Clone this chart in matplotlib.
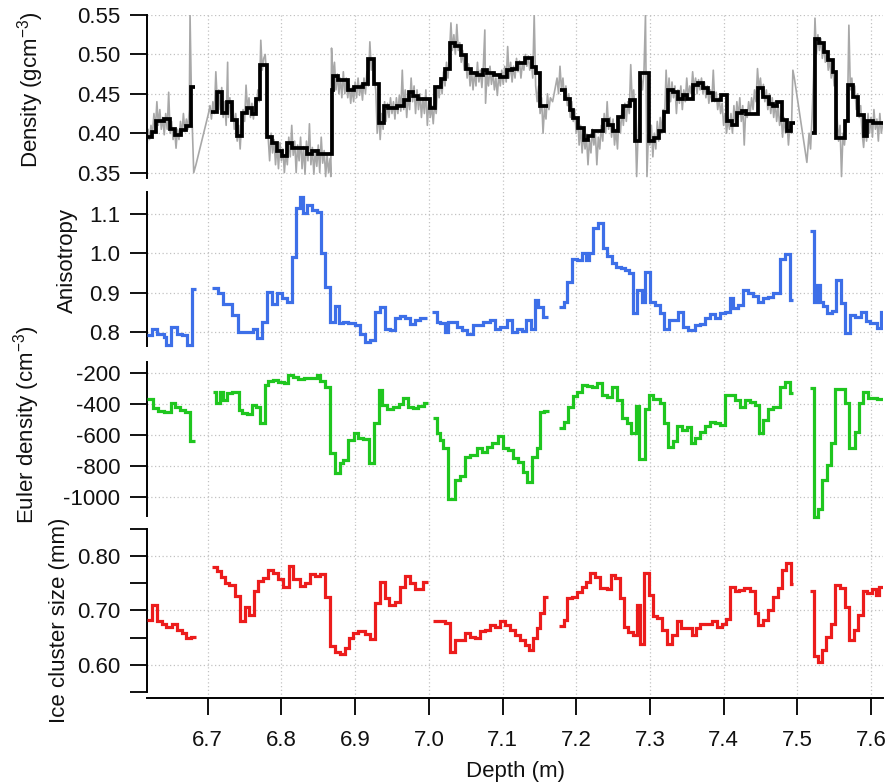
import numpy as np
import matplotlib
matplotlib.use("Agg")
import matplotlib.pyplot as plt
from matplotlib.ticker import FixedLocator, FormatStrFormatter

plt.rcParams['font.family'] = ['Liberation Sans', 'DejaVu Sans']
plt.rcParams['mathtext.fontset'] = 'custom'
plt.rcParams['mathtext.rm'] = 'Liberation Sans'
plt.rcParams['mathtext.default'] = 'regular'
plt.rcParams['axes.unicode_minus'] = False

# ---------------------------------------------------------------- data
depth_ticks = [6.7, 6.8, 6.9, 7.0, 7.1, 7.2, 7.3, 7.4, 7.5, 7.6]

# Density: raw profile (grey) and step-averaged profile (black)
density_raw_depth = [
    6.617, 6.619, 6.621, 6.623, 6.625, 6.627, 6.629, 6.631, 6.633, 6.635, 6.637, 6.639, 6.641, 6.643,
    6.645, 6.647, 6.649, 6.651, 6.653, 6.655, 6.657, 6.659, 6.661, 6.663, 6.665, 6.667, 6.669, 6.671,
    6.673, 6.675, 6.676, 6.678, 6.681, 6.684, 6.701, 6.703, 6.705, 6.707, 6.709, 6.711, 6.713, 6.715,
    6.717, 6.719, 6.721, 6.723, 6.725, 6.727, 6.728, 6.730, 6.732, 6.734, 6.736, 6.738, 6.740, 6.742,
    6.744, 6.746, 6.748, 6.750, 6.752, 6.754, 6.756, 6.758, 6.760, 6.762, 6.764, 6.766, 6.768, 6.770,
    6.772, 6.774, 6.776, 6.778, 6.780, 6.782, 6.784, 6.786, 6.788, 6.790, 6.792, 6.794, 6.796, 6.798,
    6.800, 6.802, 6.804, 6.806, 6.808, 6.810, 6.812, 6.814, 6.816, 6.818, 6.820, 6.822, 6.824, 6.826,
    6.828, 6.830, 6.832, 6.834, 6.836, 6.838, 6.840, 6.842, 6.844, 6.846, 6.848, 6.850, 6.852, 6.854,
    6.856, 6.858, 6.860, 6.862, 6.864, 6.866, 6.867, 6.868, 6.870, 6.872, 6.874, 6.876, 6.878, 6.880,
    6.882, 6.884, 6.886, 6.888, 6.890, 6.892, 6.894, 6.896, 6.898, 6.900, 6.902, 6.904, 6.906, 6.908,
    6.910, 6.912, 6.914, 6.916, 6.918, 6.920, 6.922, 6.924, 6.926, 6.928, 6.930, 6.932, 6.934, 6.936,
    6.938, 6.940, 6.942, 6.944, 6.946, 6.948, 6.950, 6.952, 6.954, 6.956, 6.958, 6.960, 6.962, 6.964,
    6.966, 6.968, 6.970, 6.972, 6.974, 6.976, 6.978, 6.980, 6.982, 6.984, 6.986, 6.988, 6.990, 6.992,
    6.994, 6.996, 6.998, 7.000, 7.002, 7.004, 7.006, 7.008, 7.010, 7.012, 7.014, 7.016, 7.018, 7.020,
    7.022, 7.024, 7.026, 7.028, 7.030, 7.032, 7.034, 7.036, 7.038, 7.040, 7.042, 7.044, 7.046, 7.048,
    7.050, 7.052, 7.054, 7.056, 7.058, 7.060, 7.062, 7.064, 7.066, 7.068, 7.070, 7.072, 7.074, 7.076,
    7.077, 7.079, 7.081, 7.083, 7.085, 7.087, 7.089, 7.091, 7.093, 7.095, 7.097, 7.099, 7.101, 7.103,
    7.105, 7.107, 7.109, 7.111, 7.113, 7.115, 7.117, 7.119, 7.121, 7.123, 7.125, 7.127, 7.129, 7.131,
    7.133, 7.135, 7.137, 7.139, 7.141, 7.143, 7.145, 7.147, 7.149, 7.151, 7.153, 7.155, 7.157, 7.159,
    7.161, 7.163, 7.165, 7.168, 7.171, 7.174, 7.176, 7.178, 7.180, 7.182, 7.184, 7.186, 7.188, 7.190,
    7.192, 7.194, 7.196, 7.198, 7.200, 7.202, 7.204, 7.206, 7.208, 7.210, 7.212, 7.214, 7.216, 7.218,
    7.220, 7.222, 7.224, 7.226, 7.228, 7.230, 7.232, 7.234, 7.236, 7.238, 7.240, 7.242, 7.244, 7.246,
    7.248, 7.250, 7.252, 7.254, 7.256, 7.258, 7.260, 7.262, 7.264, 7.266, 7.268, 7.270, 7.272, 7.274,
    7.276, 7.278, 7.280, 7.282, 7.284, 7.286, 7.288, 7.290, 7.292, 7.294, 7.296, 7.298, 7.300, 7.302,
    7.304, 7.306, 7.308, 7.310, 7.312, 7.314, 7.316, 7.318, 7.320, 7.322, 7.324, 7.326, 7.328, 7.330,
    7.332, 7.334, 7.336, 7.338, 7.340, 7.342, 7.344, 7.346, 7.348, 7.350, 7.352, 7.354, 7.356, 7.358,
    7.360, 7.362, 7.364, 7.366, 7.368, 7.370, 7.372, 7.374, 7.376, 7.378, 7.380, 7.382, 7.384, 7.386,
    7.388, 7.390, 7.392, 7.394, 7.396, 7.398, 7.400, 7.402, 7.404, 7.406, 7.408, 7.410, 7.412, 7.414,
    7.416, 7.418, 7.420, 7.422, 7.424, 7.426, 7.428, 7.430, 7.432, 7.434, 7.436, 7.438, 7.440, 7.442,
    7.444, 7.446, 7.448, 7.450, 7.452, 7.454, 7.456, 7.458, 7.460, 7.462, 7.464, 7.466, 7.468, 7.470,
    7.472, 7.474, 7.476, 7.478, 7.480, 7.482, 7.484, 7.486, 7.488, 7.490, 7.492, 7.494, 7.496, 7.513,
    7.516, 7.518, 7.520, 7.522, 7.524, 7.526, 7.528, 7.530, 7.532, 7.534, 7.536, 7.538, 7.540, 7.542,
    7.544, 7.546, 7.548, 7.550, 7.552, 7.554, 7.556, 7.558, 7.560, 7.562, 7.564, 7.566, 7.568, 7.570,
    7.572, 7.574, 7.576, 7.578, 7.580, 7.582, 7.584, 7.586, 7.588, 7.590, 7.592, 7.594, 7.596, 7.598,
    7.600, 7.602, 7.604, 7.606, 7.608, 7.610, 7.612, 7.614, 7.616,
]
density_raw = [
    0.372, 0.405, 0.392, 0.410, 0.398, 0.425, 0.405, 0.440, 0.410, 0.430, 0.405, 0.420, 0.398, 0.425,
    0.405, 0.452, 0.400, 0.415, 0.392, 0.405, 0.381, 0.405, 0.392, 0.415, 0.398, 0.425, 0.402, 0.418,
    0.405, 0.430, 0.550, 0.440, 0.350, 0.360, 0.425, 0.435, 0.418, 0.440, 0.425, 0.478, 0.440, 0.455,
    0.430, 0.458, 0.420, 0.440, 0.410, 0.490, 0.420, 0.445, 0.425, 0.438, 0.405, 0.425, 0.390, 0.410,
    0.380, 0.415, 0.430, 0.415, 0.461, 0.430, 0.445, 0.420, 0.438, 0.418, 0.440, 0.425, 0.455, 0.440,
    0.518, 0.480, 0.495, 0.500, 0.470, 0.395, 0.365, 0.400, 0.375, 0.392, 0.360, 0.385, 0.355, 0.388,
    0.365, 0.380, 0.350, 0.375, 0.360, 0.395, 0.370, 0.410, 0.372, 0.390, 0.350, 0.385, 0.365, 0.395,
    0.355, 0.383, 0.348, 0.390, 0.365, 0.412, 0.360, 0.382, 0.348, 0.378, 0.358, 0.385, 0.350, 0.395,
    0.362, 0.378, 0.345, 0.372, 0.350, 0.368, 0.345, 0.508, 0.470, 0.490, 0.455, 0.475, 0.450, 0.470,
    0.445, 0.478, 0.450, 0.470, 0.445, 0.462, 0.438, 0.458, 0.440, 0.465, 0.445, 0.470, 0.448, 0.462,
    0.442, 0.470, 0.450, 0.478, 0.460, 0.516, 0.480, 0.495, 0.470, 0.455, 0.400, 0.430, 0.392, 0.425,
    0.405, 0.440, 0.415, 0.438, 0.420, 0.445, 0.425, 0.440, 0.418, 0.445, 0.425, 0.448, 0.428, 0.480,
    0.430, 0.455, 0.420, 0.450, 0.430, 0.470, 0.440, 0.460, 0.425, 0.455, 0.430, 0.450, 0.420, 0.445,
    0.425, 0.455, 0.410, 0.440, 0.420, 0.435, 0.412, 0.440, 0.425, 0.460, 0.445, 0.470, 0.450, 0.478,
    0.460, 0.490, 0.470, 0.500, 0.540, 0.505, 0.525, 0.500, 0.538, 0.505, 0.515, 0.490, 0.505, 0.480,
    0.495, 0.470, 0.488, 0.460, 0.480, 0.455, 0.478, 0.460, 0.490, 0.465, 0.480, 0.458, 0.485, 0.531,
    0.438, 0.475, 0.460, 0.485, 0.462, 0.478, 0.455, 0.470, 0.448, 0.475, 0.460, 0.480, 0.462, 0.485,
    0.465, 0.510, 0.470, 0.490, 0.465, 0.485, 0.470, 0.495, 0.478, 0.492, 0.470, 0.488, 0.480, 0.500,
    0.485, 0.498, 0.480, 0.495, 0.470, 0.550, 0.460, 0.440, 0.460, 0.425, 0.445, 0.400, 0.432, 0.418,
    0.450, 0.430, 0.445, 0.440, 0.455, 0.470, 0.450, 0.485, 0.455, 0.470, 0.445, 0.460, 0.435, 0.450,
    0.420, 0.440, 0.415, 0.430, 0.400, 0.420, 0.385, 0.410, 0.375, 0.400, 0.380, 0.395, 0.360, 0.392,
    0.375, 0.405, 0.385, 0.400, 0.360, 0.395, 0.380, 0.410, 0.390, 0.425, 0.400, 0.440, 0.405, 0.420,
    0.395, 0.418, 0.385, 0.405, 0.380, 0.420, 0.400, 0.430, 0.410, 0.438, 0.415, 0.440, 0.425, 0.487,
    0.440, 0.455, 0.420, 0.345, 0.400, 0.440, 0.470, 0.455, 0.480, 0.550, 0.345, 0.400, 0.385, 0.410,
    0.370, 0.400, 0.380, 0.415, 0.390, 0.420, 0.400, 0.430, 0.420, 0.480, 0.440, 0.470, 0.440, 0.465,
    0.445, 0.460, 0.425, 0.455, 0.438, 0.460, 0.430, 0.455, 0.440, 0.470, 0.445, 0.460, 0.450, 0.478,
    0.455, 0.470, 0.450, 0.468, 0.455, 0.470, 0.450, 0.465, 0.445, 0.460, 0.438, 0.455, 0.440, 0.480,
    0.440, 0.452, 0.430, 0.445, 0.425, 0.438, 0.410, 0.425, 0.400, 0.420, 0.405, 0.425, 0.400, 0.435,
    0.410, 0.440, 0.420, 0.445, 0.415, 0.435, 0.385, 0.430, 0.420, 0.440, 0.425, 0.445, 0.430, 0.455,
    0.440, 0.482, 0.455, 0.470, 0.448, 0.462, 0.440, 0.455, 0.430, 0.450, 0.425, 0.445, 0.420, 0.440,
    0.415, 0.435, 0.410, 0.425, 0.395, 0.420, 0.400, 0.415, 0.385, 0.410, 0.400, 0.480, 0.470, 0.363,
    0.400, 0.380, 0.420, 0.470, 0.546, 0.500, 0.525, 0.505, 0.520, 0.495, 0.512, 0.490, 0.505, 0.480,
    0.495, 0.470, 0.485, 0.460, 0.470, 0.420, 0.390, 0.410, 0.345, 0.400, 0.385, 0.410, 0.420, 0.537,
    0.455, 0.470, 0.445, 0.460, 0.430, 0.450, 0.420, 0.435, 0.400, 0.382, 0.410, 0.390, 0.425, 0.400,
    0.420, 0.395, 0.430, 0.405, 0.418, 0.390, 0.425, 0.400, 0.412,
]

# step profiles: each segment has one more edge than values
density_edges = [
    [6.617, 6.624, 6.630, 6.641, 6.649, 6.656, 6.664, 6.670, 6.677, 6.683],
    [6.705, 6.712, 6.719, 6.726, 6.733, 6.740, 6.746, 6.753, 6.760, 6.766, 6.771, 6.780, 6.787,
     6.794, 6.801, 6.808, 6.814, 6.835, 6.842, 6.849, 6.868, 6.870, 6.877, 6.884, 6.891, 6.898,
     6.911, 6.918, 6.926, 6.933, 6.939, 6.945, 6.957, 6.966, 6.973, 6.979, 6.986, 7.002, 7.009,
     7.016, 7.022, 7.029, 7.036, 7.043, 7.050, 7.057, 7.066, 7.073, 7.079, 7.088, 7.097, 7.106,
     7.113, 7.120, 7.131, 7.140, 7.145, 7.151, 7.162],
    [7.178, 7.185, 7.191, 7.196, 7.203, 7.210, 7.216, 7.223, 7.237, 7.243, 7.250, 7.257, 7.264,
     7.273, 7.280, 7.286, 7.299, 7.306, 7.313, 7.319, 7.325, 7.331, 7.338, 7.345, 7.351, 7.358,
     7.365, 7.3725, 7.379, 7.386, 7.397, 7.404, 7.411, 7.418, 7.4245, 7.431, 7.447, 7.454, 7.461,
     7.4675, 7.473, 7.479, 7.486, 7.491, 7.497],
    [7.5195, 7.524, 7.530, 7.536, 7.542, 7.548, 7.553, 7.565, 7.569, 7.576, 7.583, 7.590, 7.595,
     7.603, 7.616],
]
density_mean = [
    [0.395, 0.402, 0.416, 0.418, 0.405, 0.398, 0.404, 0.409, 0.459],
    [0.427, 0.452, 0.426, 0.440, 0.417, 0.396, 0.426, 0.432, 0.425, 0.444, 0.486, 0.395, 0.387,
     0.377, 0.371, 0.387, 0.381, 0.374, 0.377, 0.373, 0.455, 0.472, 0.467, 0.468, 0.455, 0.459,
     0.462, 0.494, 0.462, 0.413, 0.434, 0.432, 0.435, 0.442, 0.452, 0.447, 0.444, 0.432, 0.459,
     0.469, 0.482, 0.515, 0.511, 0.499, 0.482, 0.476, 0.474, 0.480, 0.476, 0.474, 0.471, 0.480,
     0.481, 0.489, 0.495, 0.484, 0.477, 0.434],
    [0.455, 0.444, 0.429, 0.419, 0.406, 0.391, 0.397, 0.403, 0.417, 0.411, 0.403, 0.421, 0.434,
     0.442, 0.390, 0.477, 0.390, 0.394, 0.403, 0.427, 0.455, 0.452, 0.444, 0.449, 0.444, 0.461,
     0.464, 0.457, 0.451, 0.442, 0.448, 0.415, 0.410, 0.426, 0.428, 0.425, 0.457, 0.446, 0.437,
     0.434, 0.439, 0.417, 0.403, 0.413],
    [0.400, 0.520, 0.514, 0.503, 0.493, 0.478, 0.394, 0.415, 0.461, 0.446, 0.423, 0.397, 0.415,
     0.413],
]

# Anisotropy
aniso_edges = [
    [6.618, 6.624, 6.631, 6.640, 6.644, 6.650, 6.658, 6.665, 6.6715, 6.678, 6.684],
    [6.7054, 6.7145, 6.7204, 6.7258, 6.7326, 6.7416, 6.7620, 6.7665, 6.7733, 6.7801, 6.7868,
     6.7936, 6.8004, 6.8072, 6.8140, 6.8194, 6.8253, 6.8298, 6.8343, 6.8411, 6.8479, 6.8533,
     6.8592, 6.8660, 6.8728, 6.8787, 6.8841, 6.8909, 6.8999, 6.9067, 6.9135, 6.9203, 6.9270,
     6.9338, 6.9406, 6.9474, 6.9542, 6.9610, 6.9678, 6.9745, 6.9813, 6.9881, 6.9981],
    [7.0039, 7.0107, 7.0152, 7.0220, 7.0265, 7.0378, 7.0446, 7.0514, 7.0605, 7.0673, 7.0741,
     7.0831, 7.0899, 7.0967, 7.1058, 7.1126, 7.1194, 7.1261, 7.1320, 7.1384, 7.1442, 7.1488,
     7.1555, 7.1623],
    [7.1772, 7.1835, 7.1880, 7.1939, 7.2007, 7.2075, 7.2129, 7.2179, 7.2233, 7.2301, 7.2369,
     7.2423, 7.2482, 7.2541, 7.2604, 7.2663, 7.2722, 7.2776, 7.2830, 7.2889, 7.2934, 7.3002,
     7.3070, 7.3138, 7.3192, 7.3260, 7.3328, 7.3386, 7.3454, 7.3522, 7.3612, 7.3680, 7.3748,
     7.3816, 7.3884, 7.3952, 7.4020, 7.4088, 7.4133, 7.4201, 7.4269, 7.4337, 7.4405, 7.4473,
     7.4541, 7.4608, 7.4676, 7.4767, 7.4835, 7.4903, 7.4939],
    [7.5170, 7.5225, 7.5261, 7.5306, 7.5352, 7.5406, 7.5465, 7.5523, 7.5587, 7.5646, 7.5713,
     7.5781, 7.5858, 7.5930, 7.5993, 7.6084, 7.6138, 7.6165],
]
aniso_value = [
    [0.791, 0.806, 0.794, 0.787, 0.766, 0.813, 0.794, 0.791, 0.766, 0.909],
    [0.911, 0.898, 0.872, 0.870, 0.843, 0.800, 0.808, 0.783, 0.825, 0.902, 0.872, 0.898, 0.885,
     0.877, 0.990, 1.115, 1.145, 1.104, 1.124, 1.111, 1.107, 1.000, 0.915, 0.825, 0.866, 0.822,
     0.825, 0.821, 0.818, 0.794, 0.774, 0.780, 0.851, 0.864, 0.808, 0.805, 0.834, 0.840, 0.834,
     0.820, 0.830, 0.834],
    [0.851, 0.825, 0.821, 0.800, 0.825, 0.813, 0.804, 0.794, 0.817, 0.818, 0.825, 0.831, 0.808,
     0.813, 0.830, 0.800, 0.806, 0.803, 0.830, 0.808, 0.881, 0.864, 0.838],
    [0.864, 0.877, 0.928, 0.987, 0.983, 1.000, 0.983, 1.002, 1.064, 1.079, 1.013, 0.993, 0.975,
     0.966, 0.962, 0.958, 0.949, 0.849, 0.906, 0.877, 0.953, 0.877, 0.868, 0.847, 0.808, 0.831,
     0.829, 0.851, 0.813, 0.804, 0.817, 0.819, 0.834, 0.845, 0.834, 0.847, 0.851, 0.885, 0.860,
     0.868, 0.906, 0.898, 0.891, 0.877, 0.885, 0.889, 0.899, 0.987, 0.999, 0.881],
    [1.058, 0.877, 0.919, 0.877, 0.866, 0.847, 0.854, 0.932, 0.874, 0.796, 0.843, 0.838, 0.851,
     0.828, 0.823, 0.810, 0.851],
]

# Euler density (cm^-3)
euler_edges = [
    [6.618, 6.626, 6.633, 6.640, 6.650, 6.656, 6.662, 6.669, 6.676, 6.683],
    [6.707, 6.711, 6.717, 6.721, 6.726, 6.733, 6.742, 6.746, 6.753, 6.760, 6.766, 6.771, 6.778,
     6.782, 6.789, 6.796, 6.803, 6.809, 6.816, 6.823, 6.830, 6.848, 6.853, 6.859, 6.866, 6.873,
     6.879, 6.884, 6.891, 6.898, 6.904, 6.911, 6.919, 6.926, 6.932, 6.936, 6.943, 6.952, 6.959,
     6.965, 6.972, 6.979, 6.986, 6.993, 6.999],
    [7.0053, 7.0107, 7.0152, 7.0198, 7.0265, 7.0356, 7.0424, 7.0492, 7.0560, 7.0650, 7.0718,
     7.0786, 7.0854, 7.0945, 7.1012, 7.1080, 7.1148, 7.1216, 7.1284, 7.1338, 7.1397, 7.1465,
     7.1510, 7.1564, 7.1637],
    [7.1772, 7.1835, 7.1894, 7.1953, 7.2016, 7.2075, 7.2143, 7.2211, 7.2279, 7.2347, 7.2414,
     7.2482, 7.2550, 7.2618, 7.2686, 7.2740, 7.2812, 7.2857, 7.2930, 7.2984, 7.3047, 7.3138,
     7.3192, 7.3251, 7.3319, 7.3373, 7.3432, 7.3500, 7.3554, 7.3612, 7.3680, 7.3748, 7.3816,
     7.3884, 7.3952, 7.4020, 7.4156, 7.4224, 7.4292, 7.4360, 7.4428, 7.4486, 7.4541, 7.4608,
     7.4676, 7.4767, 7.4835, 7.4903, 7.4948],
    [7.5170, 7.5225, 7.5284, 7.5329, 7.5397, 7.5451, 7.5510, 7.5646, 7.5705, 7.5781, 7.5840,
     7.5894, 7.5962, 7.6075, 7.6165],
]
euler_value = [
    [-371, -429, -444, -450, -397, -418, -440, -450, -636],
    [-322, -393, -322, -375, -333, -322, -440, -461, -465, -407, -422, -521, -279, -251, -247,
     -258, -268, -215, -226, -243, -236, -215, -251, -294, -718, -842, -782, -760, -632, -585,
     -621, -628, -778, -521, -311, -407, -435, -422, -401, -365, -418, -429, -414, -393],
    [-493, -589, -632, -686, -1013, -889, -863, -739, -728, -686, -707, -675, -653, -606, -686,
     -696, -750, -771, -835, -899, -739, -686, -450, -444],
    [-557, -514, -422, -350, -322, -279, -286, -290, -264, -343, -354, -290, -375, -493, -525,
     -589, -414, -756, -435, -343, -372, -397, -525, -675, -636, -542, -567, -546, -653, -621,
     -578, -542, -514, -521, -536, -343, -375, -422, -375, -386, -407, -585, -504, -435, -422,
     -290, -258, -333],
    [-300, -1124, -1077, -889, -793, -653, -307, -397, -686, -578, -397, -322, -365, -371],
]

# Ice cluster size (mm)
ice_edges = [
    [6.618, 6.624, 6.631, 6.638, 6.644, 6.651, 6.658, 6.665, 6.671, 6.677, 6.684],
    [6.7054, 6.7122, 6.7176, 6.7235, 6.7294, 6.7371, 6.7439, 6.7507, 6.7565, 6.7629, 6.7687,
     6.7755, 6.7823, 6.7891, 6.7959, 6.8027, 6.8108, 6.8162, 6.8253, 6.8321, 6.8389, 6.8456,
     6.8524, 6.8592, 6.8660, 6.8728, 6.8796, 6.8863, 6.8922, 6.8976, 6.9044, 6.9135, 6.9203,
     6.9270, 6.9338, 6.9406, 6.9465, 6.9542, 6.9610, 6.9678, 6.9745, 6.9813, 6.9926, 6.9994],
    [7.0053, 7.0220, 7.0288, 7.0356, 7.0492, 7.0560, 7.0628, 7.0696, 7.0763, 7.0831, 7.0899,
     7.0967, 7.1035, 7.1103, 7.1171, 7.1238, 7.1306, 7.1365, 7.1420, 7.1465, 7.1510, 7.1564,
     7.1623],
    [7.1772, 7.1835, 7.1880, 7.1939, 7.2007, 7.2075, 7.2129, 7.2188, 7.2256, 7.2324, 7.2414,
     7.2469, 7.2528, 7.2596, 7.2650, 7.2709, 7.2776, 7.2822, 7.2867, 7.2921, 7.2993, 7.3047,
     7.3102, 7.3160, 7.3228, 7.3296, 7.3364, 7.3419, 7.3568, 7.3627, 7.3680, 7.3839, 7.3907,
     7.3975, 7.4034, 7.4088, 7.4156, 7.4215, 7.4279, 7.4360, 7.4428, 7.4473, 7.4541, 7.4608,
     7.4676, 7.4744, 7.4790, 7.4849, 7.4912, 7.4948],
    [7.5179, 7.5225, 7.5284, 7.5329, 7.5388, 7.5451, 7.5510, 7.5578, 7.5646, 7.5705, 7.5768,
     7.5827, 7.5886, 7.5940, 7.6008, 7.6066, 7.6111, 7.6165],
]
ice_value = [
    [0.683, 0.710, 0.680, 0.675, 0.669, 0.675, 0.664, 0.658, 0.649, 0.651],
    [0.779, 0.773, 0.762, 0.751, 0.747, 0.727, 0.680, 0.706, 0.692, 0.736, 0.755, 0.759, 0.774,
     0.768, 0.757, 0.744, 0.782, 0.758, 0.745, 0.751, 0.767, 0.763, 0.767, 0.724, 0.635, 0.623,
     0.620, 0.631, 0.649, 0.659, 0.662, 0.657, 0.647, 0.714, 0.753, 0.722, 0.710, 0.716, 0.744,
     0.763, 0.750, 0.739, 0.753],
    [0.680, 0.677, 0.623, 0.646, 0.658, 0.652, 0.649, 0.663, 0.664, 0.673, 0.670, 0.680, 0.673,
     0.664, 0.655, 0.646, 0.637, 0.628, 0.649, 0.667, 0.695, 0.724],
    [0.672, 0.683, 0.722, 0.725, 0.733, 0.743, 0.753, 0.769, 0.761, 0.741, 0.739, 0.765, 0.759,
     0.722, 0.670, 0.661, 0.655, 0.710, 0.639, 0.768, 0.728, 0.689, 0.686, 0.664, 0.639, 0.655,
     0.680, 0.667, 0.655, 0.667, 0.675, 0.680, 0.670, 0.675, 0.684, 0.744, 0.735, 0.738, 0.741,
     0.736, 0.696, 0.673, 0.683, 0.700, 0.725, 0.741, 0.774, 0.787, 0.749],
    [0.735, 0.617, 0.606, 0.628, 0.651, 0.676, 0.747, 0.741, 0.706, 0.646, 0.664, 0.692, 0.735,
     0.732, 0.739, 0.728, 0.744],
]

# ---------------------------------------------------------------- figure
W, H = 891, 783
fig = plt.figure(figsize=(W / 100, H / 100), dpi=100)

XLIM = (6.618, 7.6163)
LEFT_PX, RIGHT_PX = 147.3, 883.0


def add_panel(top_px, bottom_px):
    rect = [LEFT_PX / W, 1 - bottom_px / H, (RIGHT_PX - LEFT_PX) / W, (bottom_px - top_px) / H]
    ax = fig.add_axes(rect)
    ax.patch.set_visible(False)
    return ax


def style(ax, ylim, bounds, major, minor=None, fmt='%.2f', bottom=False):
    ax.set_xlim(*XLIM)
    ax.set_ylim(*ylim)
    for s in ('top', 'right'):
        ax.spines[s].set_visible(False)
    ax.spines['left'].set_bounds(*bounds)
    ax.spines['left'].set_linewidth(1.4)
    ax.yaxis.set_major_locator(FixedLocator(major))
    if minor is not None:
        ax.yaxis.set_minor_locator(FixedLocator(minor))
    ax.yaxis.set_major_formatter(FormatStrFormatter(fmt))
    ax.tick_params(axis='y', which='both', direction='out', length=12, width=1.4,
                   pad=7.5, labelsize=16, colors='#111111')
    ax.xaxis.set_major_locator(FixedLocator(depth_ticks))
    ax.grid(True, which='major', color='#c2c2c2', linestyle=(0, (1, 2)), linewidth=0.9)
    ax.set_axisbelow(True)
    if bottom:
        ax.spines['bottom'].set_linewidth(1.4)
        ax.xaxis.set_major_formatter(FormatStrFormatter('%.1f'))
        ax.tick_params(axis='x', direction='out', length=12, width=1.4, pad=11,
                       labelsize=16, colors='#111111')
    else:
        ax.spines['bottom'].set_visible(False)
        ax.tick_params(axis='x', length=0, labelbottom=False)


def draw_steps(ax, edges_list, values_list, color, lw):
    for e, v in zip(edges_list, values_list):
        ax.stairs(v, e, baseline=None, color=color, linewidth=lw, zorder=3)


# Density
ax1 = add_panel(15, 185)
ax1.plot(density_raw_depth, density_raw, color='#a8a8a8', linewidth=1.2, zorder=2)
draw_steps(ax1, density_edges, density_mean, '#000000', 2.7)
style(ax1, (0.3343, 0.55), (0.343, 0.55), [0.35, 0.40, 0.45, 0.50, 0.55])

# Anisotropy
ax2 = add_panel(185, 353.7)
draw_steps(ax2, aniso_edges, aniso_value, '#3d6fe8', 2.3)
style(ax2, (0.7438, 1.1749), (0.764, 1.158), [0.8, 0.9, 1.0, 1.1], fmt='%.1f')

# Euler density
ax3 = add_panel(353.7, 522.8)
draw_steps(ax3, euler_edges, euler_value, '#1fc61f', 2.3)
style(ax3, (-1163.7, -78), (-1118, -130), [-1000, -800, -600, -400, -200], fmt='%d')

# Ice cluster size
ax4 = add_panel(522.8, 698)
draw_steps(ax4, ice_edges, ice_value, '#ec1c1c', 2.3)
style(ax4, (0.5394, 0.8609), (0.55, 0.85), [0.60, 0.70, 0.80],
      minor=[0.55, 0.65, 0.75, 0.85], bottom=True)

# axis titles
fig.text(31 / W, 1 - 90 / H, 'Density (gcm$^{-3}$)', rotation=90, ha='center', va='center',
         fontsize=16, color='#111111')
fig.text(67 / W, 1 - 261 / H, 'Anisotropy', rotation=90, ha='center', va='center',
         fontsize=16, color='#111111')
fig.text(27 / W, 1 - 425 / H, 'Euler density (cm$^{-3}$)', rotation=90, ha='center',
         va='center', fontsize=16, color='#111111')
fig.text(60 / W, 1 - 620 / H, 'Ice cluster size (mm)', rotation=90, ha='center', va='center',
         fontsize=16, color='#111111')
fig.text(515 / W, 1 - 776.7 / H, 'Depth (m)', ha='center', va='baseline', fontsize=16,
         color='#111111')

fig.savefig('out.png', dpi=100)
